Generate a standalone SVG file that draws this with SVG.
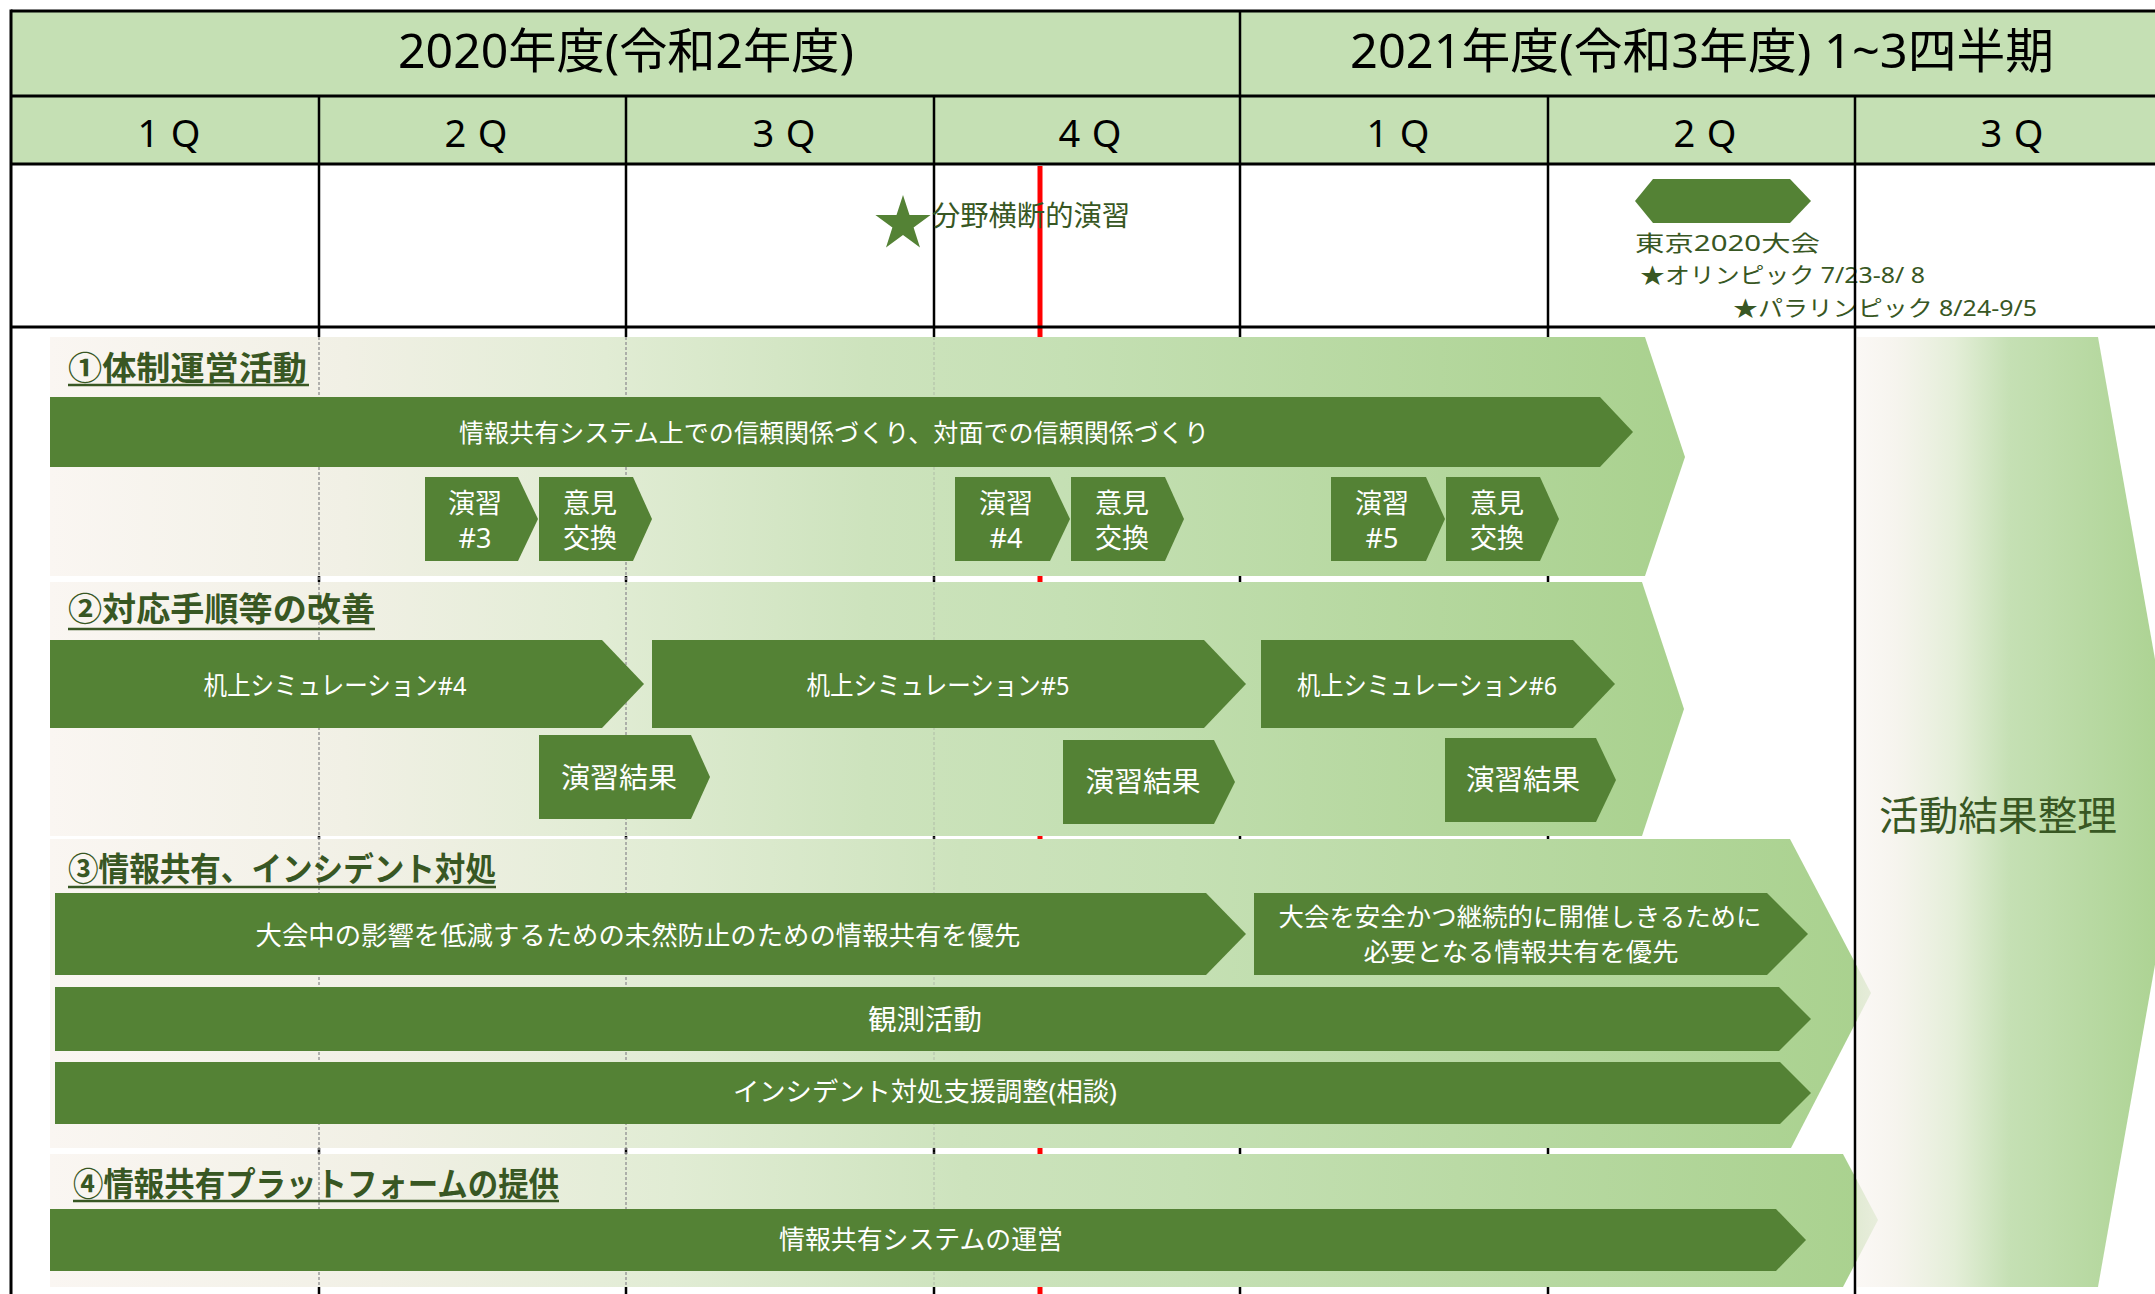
<svg xmlns="http://www.w3.org/2000/svg" width="2155" height="1294" viewBox="0 0 2155 1294">
<defs>
<linearGradient id="bandGrad" x1="0" y1="0" x2="1" y2="0">
<stop offset="0" stop-color="#faf6f2"/>
<stop offset="0.18" stop-color="#f1f0e5"/>
<stop offset="0.34" stop-color="#e1ecd4"/>
<stop offset="0.5" stop-color="#cde3bd"/>
<stop offset="0.62" stop-color="#c5e0b4"/>
<stop offset="1" stop-color="#a9d18e"/>
</linearGradient>
<linearGradient id="sumGrad" x1="0" y1="0" x2="1" y2="0">
<stop offset="0" stop-color="#f9f5f1" stop-opacity="0.7"/>
<stop offset="0.12" stop-color="#f5f3ec" stop-opacity="0.9"/>
<stop offset="0.3" stop-color="#e4eed8"/>
<stop offset="0.47" stop-color="#c5e0b4"/>
<stop offset="1" stop-color="#a9d18e"/>
</linearGradient>
</defs>
<style>
.hdr{fill:#c5e0b4}
.grid{stroke:#000;stroke-width:3;fill:none}
.vl{stroke:#000;stroke-width:2.5}
.band{fill:url(#bandGrad)}
.arr{fill:#548235}
.dash{stroke:#9a9a9a;stroke-width:1.5;stroke-dasharray:3 2}
.t{font-family:'Noto Sans','Noto Sans CJK JP',sans-serif}
.h1{font-size:48px;fill:#000;text-anchor:middle}
.q{font-size:38px;fill:#000;text-anchor:middle}
.ev{font-size:22px;fill:#385723}
.ttl{font-size:33px;font-weight:bold;fill:#385723}
.ul{stroke:#385723;stroke-width:2.5}
.w{fill:#fff;text-anchor:middle;font-size:26px}
.sm{fill:#fff;text-anchor:middle;font-size:27px}
</style>
<rect width="2155" height="1294" fill="#fff"/>

<g id="header">
<rect class="hdr" x="11" y="11" width="2144" height="153"/>
<text class="t h1" x="626" y="68" textLength="456" lengthAdjust="spacingAndGlyphs">2020年度(令和2年度)</text>
<text class="t h1" x="1702" y="68" textLength="704" lengthAdjust="spacingAndGlyphs">2021年度(令和3年度) 1~3四半期</text>
<text class="t q" x="169" y="147" textLength="63" lengthAdjust="spacing">1Q</text>
<text class="t q" x="476" y="147" textLength="63" lengthAdjust="spacing">2Q</text>
<text class="t q" x="784" y="147" textLength="63" lengthAdjust="spacing">3Q</text>
<text class="t q" x="1090" y="147" textLength="63" lengthAdjust="spacing">4Q</text>
<text class="t q" x="1398" y="147" textLength="63" lengthAdjust="spacing">1Q</text>
<text class="t q" x="1705" y="147" textLength="63" lengthAdjust="spacing">2Q</text>
<text class="t q" x="2012" y="147" textLength="63" lengthAdjust="spacing">3Q</text>
</g>

<g id="grid">
<line class="vl" x1="1240" y1="11" x2="1240" y2="96"/>
<line class="vl" x1="319" y1="96" x2="319" y2="1294"/>
<line class="vl" x1="626" y1="96" x2="626" y2="1294"/>
<line class="vl" x1="934" y1="96" x2="934" y2="1294"/>
<line class="vl" x1="1240" y1="96" x2="1240" y2="1294"/>
<line class="vl" x1="1548" y1="96" x2="1548" y2="1294"/>
<line x1="1040" y1="166" x2="1040" y2="1294" stroke="#ff0000" stroke-width="5"/>
</g>

<g id="event-cross">
<polygon fill="#548235" points="903,195 909.5,215 930.6,215 913.6,227.4 920,247.5 903,235.1 886,247.5 892.4,227.4 875.4,215 896.5,215"/>
<text class="t ev" x="932" y="226" style="font-size:28px" textLength="198" lengthAdjust="spacingAndGlyphs">分野横断的演習</text>
</g>

<g id="event-tokyo2020">
<polygon fill="#548235" points="1635,201 1653,179 1790,179 1811,201 1790,223 1653,223"/>
<text class="t ev" x="1635" y="251" textLength="185" lengthAdjust="spacingAndGlyphs">東京2020大会</text>
<text class="t ev" x="1640" y="283" textLength="285" lengthAdjust="spacingAndGlyphs">★オリンピック 7/23-8/ 8</text>
<text class="t ev" x="1733" y="316" textLength="304" lengthAdjust="spacingAndGlyphs">★パラリンピック 8/24-9/5</text>
</g>

<g id="band1">
<polygon class="band" points="50,337 1645,337 1685,457 1645,576 50,576"/>
</g>
<g id="band2">
<polygon class="band" points="50,582 1642,582 1684,709 1642,836 50,836"/>
</g>
<g id="band3">
<polygon class="band" points="50,839 1790,839 1871,993 1791,1148 50,1148"/>
</g>
<g id="band4">
<polygon class="band" points="50,1154 1843,1154 1878,1220 1843,1287 50,1287"/>
</g>

<g id="dashes">
<line class="dash" x1="319" y1="337" x2="319" y2="1287"/>
<line class="dash" x1="626" y1="337" x2="626" y2="1287"/>
<line class="dash" x1="934" y1="337" x2="934" y2="1287" opacity="0.35"/>
</g>

<g id="title1">
<text class="t ttl" x="68" y="380" textLength="239" lengthAdjust="spacingAndGlyphs">①体制運営活動</text>
<line class="ul" x1="68" y1="385" x2="309" y2="385"/>
</g>
<g id="arrow-trust">
<polygon class="arr" points="50,397 1600,397 1633,432 1600,467 50,467"/>
<text class="t w" x="834" y="442" style="font-size:25px" textLength="750" lengthAdjust="spacingAndGlyphs">情報共有システム上での信頼関係づくり、対面での信頼関係づくり</text>
</g>
<g id="ex3">
<polygon class="arr" points="425,477 518,477 538,519 518,561 425,561"/>
<text class="t sm" x="475" y="513">演習</text>
<text class="t sm" x="475" y="548">#3</text>
</g>
<g id="op1">
<polygon class="arr" points="539,477 633,477 652,519 633,561 539,561"/>
<text class="t sm" x="590" y="513">意見</text>
<text class="t sm" x="590" y="548">交換</text>
</g>
<g id="ex4">
<polygon class="arr" points="955,477 1050,477 1070,519 1050,561 955,561"/>
<text class="t sm" x="1006" y="513">演習</text>
<text class="t sm" x="1006" y="548">#4</text>
</g>
<g id="op2">
<polygon class="arr" points="1071,477 1165,477 1184,519 1165,561 1071,561"/>
<text class="t sm" x="1122" y="513">意見</text>
<text class="t sm" x="1122" y="548">交換</text>
</g>
<g id="ex5">
<polygon class="arr" points="1331,477 1426,477 1445,519 1426,561 1331,561"/>
<text class="t sm" x="1382" y="513">演習</text>
<text class="t sm" x="1382" y="548">#5</text>
</g>
<g id="op3">
<polygon class="arr" points="1446,477 1540,477 1559,519 1540,561 1446,561"/>
<text class="t sm" x="1497" y="513">意見</text>
<text class="t sm" x="1497" y="548">交換</text>
</g>

<g id="title2">
<text class="t ttl" x="68" y="621" textLength="307" lengthAdjust="spacingAndGlyphs">②対応手順等の改善</text>
<line class="ul" x1="68" y1="629" x2="375" y2="629"/>
</g>
<g id="sim4">
<polygon class="arr" points="50,640 602,640 644,684 602,728 50,728"/>
<text class="t w" x="335" y="695" textLength="263" lengthAdjust="spacingAndGlyphs">机上シミュレーション#4</text>
</g>
<g id="sim5">
<polygon class="arr" points="652,640 1204,640 1246,684 1204,728 652,728"/>
<text class="t w" x="938" y="695" textLength="263" lengthAdjust="spacingAndGlyphs">机上シミュレーション#5</text>
</g>
<g id="sim6">
<polygon class="arr" points="1261,640 1573,640 1615,684 1573,728 1261,728"/>
<text class="t w" x="1427" y="695" textLength="260" lengthAdjust="spacingAndGlyphs">机上シミュレーション#6</text>
</g>
<g id="res1">
<polygon class="arr" points="539,735 691,735 710,777 691,819 539,819"/>
<text class="t w" x="619" y="788" style="font-size:28px" textLength="116" lengthAdjust="spacingAndGlyphs">演習結果</text>
</g>
<g id="res2">
<polygon class="arr" points="1063,740 1214,740 1235,782 1214,824 1063,824"/>
<text class="t w" x="1143" y="792" style="font-size:28px" textLength="115" lengthAdjust="spacingAndGlyphs">演習結果</text>
</g>
<g id="res3">
<polygon class="arr" points="1445,738 1596,738 1616,780 1596,822 1445,822"/>
<text class="t w" x="1523" y="790" style="font-size:28px" textLength="114" lengthAdjust="spacingAndGlyphs">演習結果</text>
</g>

<g id="title3">
<text class="t ttl" x="68" y="881" textLength="428" lengthAdjust="spacingAndGlyphs">③情報共有、インシデント対処</text>
<line class="ul" x1="68" y1="887" x2="496" y2="887"/>
</g>
<g id="share-prevent">
<polygon class="arr" points="55,893 1206,893 1246,934 1206,975 55,975"/>
<text class="t w" x="638" y="945" textLength="765" lengthAdjust="spacingAndGlyphs">大会中の影響を低減するための未然防止のための情報共有を優先</text>
</g>
<g id="share-safe">
<polygon class="arr" points="1254,893 1767,893 1808,934 1767,975 1254,975"/>
<text class="t w" x="1520" y="926" style="font-size:25px" textLength="483" lengthAdjust="spacingAndGlyphs">大会を安全かつ継続的に開催しきるために</text>
<text class="t w" x="1521" y="961" style="font-size:25px" textLength="315" lengthAdjust="spacingAndGlyphs">必要となる情報共有を優先</text>
</g>
<g id="observe">
<polygon class="arr" points="55,987 1779,987 1811,1019 1779,1051 55,1051"/>
<text class="t w" x="925" y="1030" style="font-size:28px" textLength="114" lengthAdjust="spacingAndGlyphs">観測活動</text>
</g>
<g id="incident">
<polygon class="arr" points="55,1062 1780,1062 1811,1093 1780,1124 55,1124"/>
<text class="t w" x="925" y="1101" textLength="384" lengthAdjust="spacingAndGlyphs">インシデント対処支援調整(相談)</text>
</g>

<g id="title4">
<text class="t ttl" x="73" y="1196" textLength="486" lengthAdjust="spacingAndGlyphs">④情報共有プラットフォームの提供</text>
<line class="ul" x1="73" y1="1201" x2="559" y2="1201"/>
</g>
<g id="platform">
<polygon class="arr" points="50,1209 1776,1209 1806,1240 1776,1271 50,1271"/>
<text class="t w" x="921" y="1249" textLength="284" lengthAdjust="spacingAndGlyphs">情報共有システムの運営</text>
</g>

<g id="summary">
<polygon fill="url(#sumGrad)" points="1857,337 2098,337 2182,812 2098,1287 1857,1287"/>
<text class="t" x="1879" y="830" font-size="40" fill="#385723" textLength="238" lengthAdjust="spacingAndGlyphs">活動結果整理</text>
</g>

<g id="frame">
<line class="vl" x1="1855" y1="96" x2="1855" y2="1294"/>
<line class="grid" x1="11" y1="11" x2="2155" y2="11"/>
<line class="grid" x1="11" y1="96" x2="2155" y2="96"/>
<line class="grid" x1="11" y1="164" x2="2155" y2="164"/>
<line class="grid" x1="11" y1="327" x2="2155" y2="327"/>
<line class="grid" x1="11" y1="9.5" x2="11" y2="1294"/>
</g>
</svg>
